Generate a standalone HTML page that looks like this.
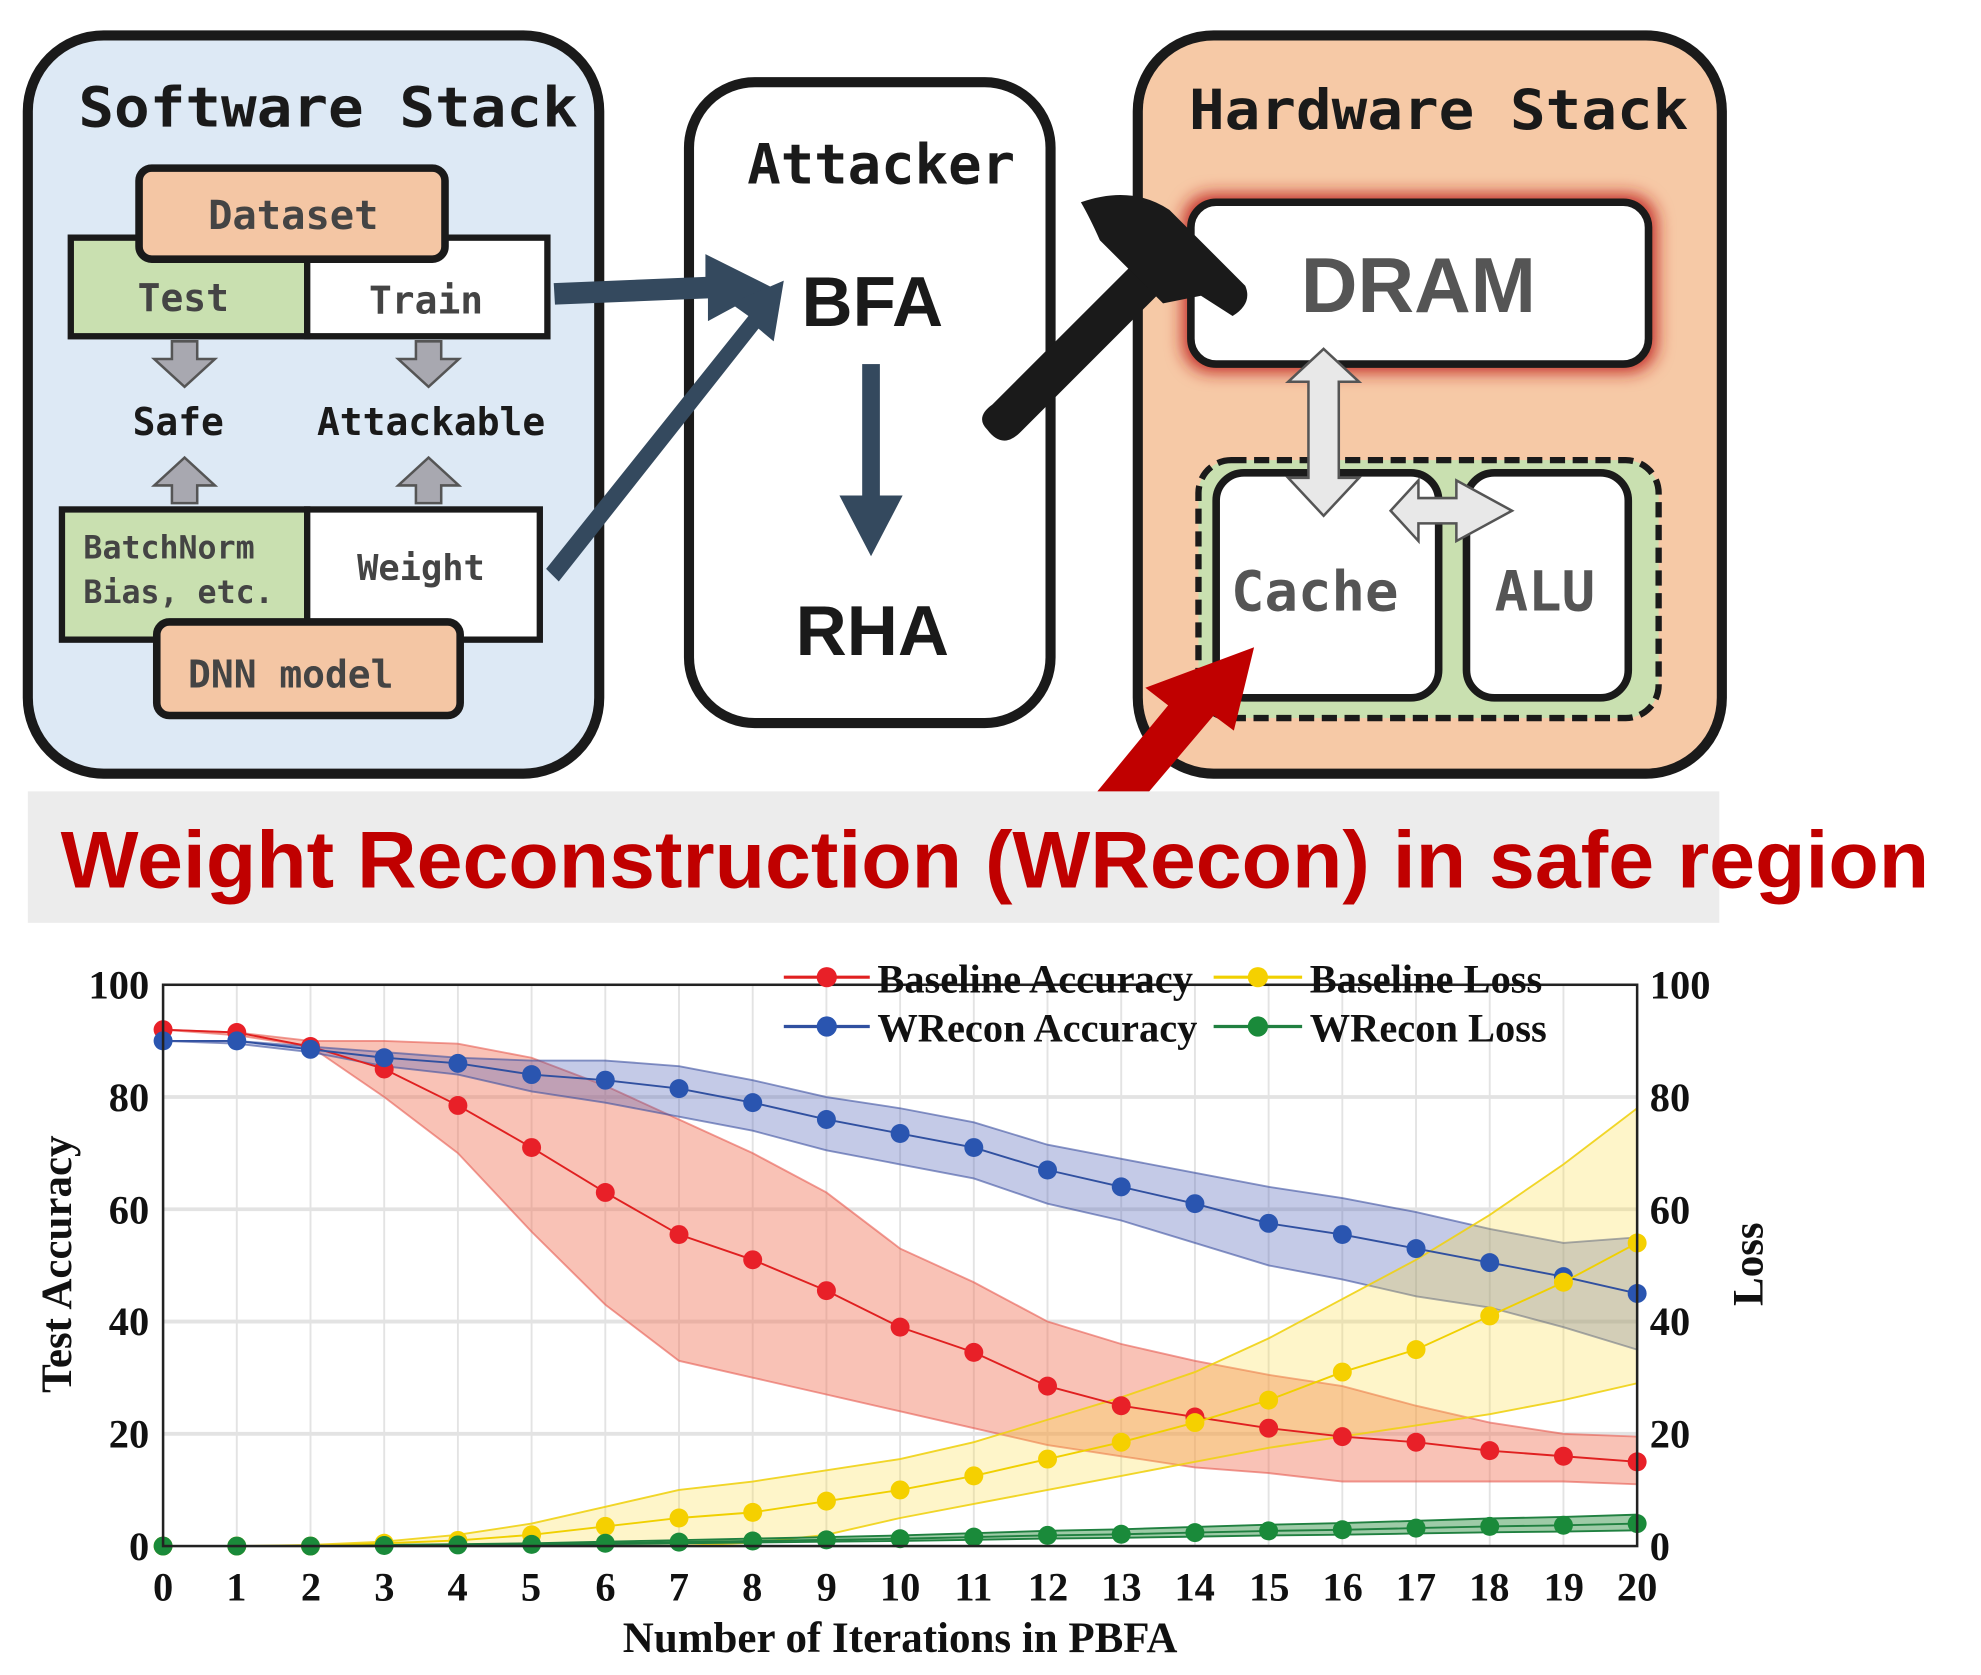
<!DOCTYPE html>
<html><head><meta charset="utf-8"><style>
html,body{margin:0;padding:0;background:#fff;width:1981px;height:1675px;overflow:hidden}
svg{display:block}
.mono{font-family:"DejaVu Sans Mono","Liberation Mono",monospace;font-weight:bold}
.ser{font-family:"Liberation Serif",serif;font-weight:bold}
</style></head><body>
<svg id="s" width="1981" height="1675" viewBox="0 0 1567 1325" preserveAspectRatio="none" xmlns="http://www.w3.org/2000/svg">
<defs>
<filter id="glow" x="-20%" y="-40%" width="140%" height="180%"><feGaussianBlur stdDeviation="7"/></filter>
</defs>
<rect x="22" y="28" width="452" height="584" rx="60" fill="#dde9f5" stroke="#1a1a1a" stroke-width="8"/>
<text x="62" y="100" class="mono" font-size="44" fill="#1a1a1a" textLength="395" lengthAdjust="spacingAndGlyphs">Software Stack</text>
<rect x="56" y="188" width="187" height="78" fill="#c9e0b0" stroke="#1a1a1a" stroke-width="5"/>
<rect x="243" y="188" width="190" height="78" fill="#fff" stroke="#1a1a1a" stroke-width="5"/>
<rect x="110" y="133" width="242" height="72" rx="10" fill="#f4c6a4" stroke="#1a1a1a" stroke-width="6"/>
<text x="232" y="181" class="mono" font-size="32" fill="#444" text-anchor="middle">Dataset</text>
<text x="145" y="246" class="mono" font-size="30" fill="#444" text-anchor="middle">Test</text>
<text x="337" y="248" class="mono" font-size="30" fill="#444" text-anchor="middle">Train</text>
<g fill="#a8a8b0" stroke="#555" stroke-width="2">
<path d="M136 270h20v14h14l-24 22l-24-22h14z"/>
<path d="M329 270h20v14h14l-24 22l-24-22h14z"/>
<path d="M136 398h20v-14h14l-24-22l-24 22h14z"/>
<path d="M329 398h20v-14h14l-24-22l-24 22h14z"/>
</g>
<text x="141" y="344" class="mono" font-size="30" fill="#1a1a1a" text-anchor="middle">Safe</text>
<text x="341" y="344" class="mono" font-size="30" fill="#1a1a1a" text-anchor="middle">Attackable</text>
<rect x="49" y="403" width="194" height="103" fill="#c9e0b0" stroke="#1a1a1a" stroke-width="5"/>
<rect x="243" y="403" width="184" height="103" fill="#fff" stroke="#1a1a1a" stroke-width="5"/>
<text x="66" y="442" class="mono" font-size="25" fill="#444">BatchNorm</text>
<text x="66" y="477" class="mono" font-size="25" fill="#444">Bias, etc.</text>
<text x="333" y="459" class="mono" font-size="28" fill="#444" text-anchor="middle">Weight</text>
<rect x="124" y="492" width="240" height="74" rx="10" fill="#f4c6a4" stroke="#1a1a1a" stroke-width="6"/>
<text x="230" y="544" class="mono" font-size="30" fill="#444" text-anchor="middle">DNN model</text>
<rect x="545" y="65" width="286" height="507" rx="52" fill="#fff" stroke="#1a1a1a" stroke-width="8"/>
<text x="697" y="145" class="mono" font-size="44" fill="#1a1a1a" text-anchor="middle">Attacker</text>
<text x="690" y="258" font-family="Liberation Sans,sans-serif" font-weight="bold" font-size="56" fill="#1a1a1a" text-anchor="middle">BFA</text>
<text x="690" y="518" font-family="Liberation Sans,sans-serif" font-weight="bold" font-size="56" fill="#1a1a1a" text-anchor="middle">RHA</text>
<g fill="#34495e">
<rect x="682" y="288" width="14" height="110"/>
<path d="M664 392h50l-25 48z"/>
<path d="M438 224l120-5v-18l52 26l-50 27v-18l-121 5z"/>
<path d="M432 450l160-200l-14-10l42-18l-8 48l-12-10l-158 200z"/>
</g>
<rect x="900" y="28" width="462" height="584" rx="60" fill="#f6c9a6" stroke="#1a1a1a" stroke-width="8"/>
<text x="1138" y="102" class="mono" font-size="44" fill="#1a1a1a" text-anchor="middle" textLength="395" lengthAdjust="spacingAndGlyphs">Hardware Stack</text>
<rect x="936" y="154" width="374" height="140" rx="22" fill="#c0201a" filter="url(#glow)"/>
<rect x="942" y="160" width="362" height="128" rx="20" fill="#fff" stroke="#1a1a1a" stroke-width="6"/>
<text x="1122" y="247" font-family="Liberation Sans,sans-serif" font-weight="bold" font-size="62" fill="#555" text-anchor="middle">DRAM</text>
<rect x="948" y="364" width="364" height="204" rx="26" fill="#c9e0b0" stroke="#1a1a1a" stroke-width="5" stroke-dasharray="12 6"/>
<rect x="962" y="374" width="176" height="178" rx="22" fill="#fff" stroke="#1a1a1a" stroke-width="6"/>
<rect x="1160" y="374" width="128" height="178" rx="22" fill="#fff" stroke="#1a1a1a" stroke-width="6"/>
<text x="1040" y="483" class="mono" font-size="44" fill="#555" text-anchor="middle">Cache</text>
<text x="1222" y="483" class="mono" font-size="44" fill="#555" text-anchor="middle">ALU</text>
<path d="M1047 276l28 26h-16v76h16l-28 30l-28-30h16v-76h-16z" fill="#e8e8e8" stroke="#555" stroke-width="2"/>
<path d="M1100 404l22-24v14h30v-14l44 24l-44 24v-14h-30v14z" fill="#e8e8e8" stroke="#555" stroke-width="2"/>
<path d="M785 320l110-110l22 22l-110 110q-14 14-26-2q-10-10 4-20z" fill="#1a1a1a"/>
<path d="M855 160q40-14 70 6l60 60q6 14-10 24l-25-16l-30 6l-50-50q-8-18-15-30z" fill="#1a1a1a"/>
<path d="M868 626l56-68l-18-14l86-32l-16 66l-16-12l-56 66z" fill="#c00000"/>
<rect x="22" y="626" width="1338" height="104" fill="#ececec"/>
<text x="48" y="702" font-family="Liberation Sans,sans-serif" font-weight="bold" font-size="64" fill="#c00000" textLength="1478" lengthAdjust="spacingAndGlyphs">Weight Reconstruction (WRecon) in safe region</text>
<g id="grid" stroke="#e3e3e3" stroke-width="1.5"></g>
<g id="plot"></g>
<rect x="129" y="779" width="1166" height="444" fill="none" stroke="#222" stroke-width="2"/>
<g class="ser" font-size="32" fill="#111">
<text x="118" y="790" text-anchor="end">100</text>
<text x="118" y="879" text-anchor="end">80</text>
<text x="118" y="968" text-anchor="end">60</text>
<text x="118" y="1056" text-anchor="end">40</text>
<text x="118" y="1145" text-anchor="end">20</text>
<text x="118" y="1234" text-anchor="end">0</text>
<text x="1305" y="790">100</text>
<text x="1305" y="879">80</text>
<text x="1305" y="968">60</text>
<text x="1305" y="1056">40</text>
<text x="1305" y="1145">20</text>
<text x="1305" y="1234">0</text>
<g text-anchor="middle">
<text x="129" y="1266">0</text><text x="187" y="1266">1</text><text x="246" y="1266">2</text><text x="304" y="1266">3</text><text x="362" y="1266">4</text><text x="420" y="1266">5</text><text x="479" y="1266">6</text><text x="537" y="1266">7</text><text x="595" y="1266">8</text><text x="654" y="1266">9</text><text x="712" y="1266">10</text><text x="770" y="1266">11</text><text x="829" y="1266">12</text><text x="887" y="1266">13</text><text x="945" y="1266">14</text><text x="1004" y="1266">15</text><text x="1062" y="1266">16</text><text x="1120" y="1266">17</text><text x="1178" y="1266">18</text><text x="1237" y="1266">19</text><text x="1295" y="1266">20</text>
<text x="712" y="1307" font-size="34">Number of Iterations in PBFA</text>
</g>
<text transform="translate(56 1000) rotate(-90)" text-anchor="middle" font-size="34">Test Accuracy</text>
<text transform="translate(1394 1000) rotate(-90)" text-anchor="middle" font-size="34">Loss</text>
<text x="694" y="785">Baseline Accuracy</text>
<text x="1036" y="785">Baseline Loss</text>
<text x="694" y="824">WRecon Accuracy</text>
<text x="1036" y="824">WRecon Loss</text>
</g>
<g stroke-width="2.5">
<line x1="620" y1="773" x2="688" y2="773" stroke="#e02020"/><circle cx="654" cy="773" r="8" fill="#e82028"/>
<line x1="960" y1="773" x2="1030" y2="773" stroke="#f0d000"/><circle cx="995" cy="773" r="8" fill="#f5d000"/>
<line x1="620" y1="812" x2="688" y2="812" stroke="#3050a0"/><circle cx="654" cy="812" r="8" fill="#2a55b0"/>
<line x1="960" y1="812" x2="1030" y2="812" stroke="#208040"/><circle cx="995" cy="812" r="8" fill="#1a8a3a"/>
</g>
</svg>
<script>
(function(){
var NS="http://www.w3.org/2000/svg";
function X(i){return 129+i*58.3}function Y(v){return 1223-v*4.44}
var g=document.getElementById('grid'),p=document.getElementById('plot');
for(var i=1;i<20;i++){var l=document.createElementNS(NS,'line');l.setAttribute('x1',X(i));l.setAttribute('x2',X(i));l.setAttribute('y1',779);l.setAttribute('y2',1223);g.appendChild(l);}
for(var v=20;v<100;v+=20){var l=document.createElementNS(NS,'line');l.setAttribute('x1',129);l.setAttribute('x2',1295);l.setAttribute('y1',Y(v));l.setAttribute('y2',Y(v));l.setAttribute('stroke-width',3);g.appendChild(l);}
function band(u,lo,fill,stroke){var d='M';for(var i=0;i<=20;i++)d+=X(i)+' '+Y(u[i])+' L';for(var i=20;i>=0;i--)d+=X(i)+' '+Y(lo[i])+(i?' L':'Z');var e=document.createElementNS(NS,'path');e.setAttribute('d',d.replace(/ L$/,''));e.setAttribute('fill',fill);e.setAttribute('stroke',stroke);e.setAttribute('stroke-width',1.5);p.appendChild(e);}
function line(a,c,f){var d='';for(var i=0;i<=20;i++)d+=(i?'L':'M')+X(i)+' '+Y(a[i]);var e=document.createElementNS(NS,'path');e.setAttribute('d',d);e.setAttribute('fill','none');e.setAttribute('stroke',c);e.setAttribute('stroke-width',1.5);p.appendChild(e);for(var i=0;i<=20;i++){var c2=document.createElementNS(NS,'circle');c2.setAttribute('cx',X(i));c2.setAttribute('cy',Y(a[i]));c2.setAttribute('r',7.5);c2.setAttribute('fill',f);p.appendChild(c2);}}
var ra=[92,91.5,89,85,78.5,71,63,55.5,51,45.5,39,34.5,28.5,25,23,21,19.5,18.5,17,16,15];
var ru=[92,91.5,90,90,89.5,87,82,76,70,63,53,47,40,36,33,30.5,28.5,25,22,20,19.5];
var rl=[92,91,89,80,70,56,43,33,30,27,24,21,18,16,14,13,11.5,11.5,11.5,11.5,11];
var ba=[90,90,88.5,87,86,84,83,81.5,79,76,73.5,71,67,64,61,57.5,55.5,53,50.5,48,45];
var bu=[90,90,89,88,87,86.5,86.5,85.5,83,80,78,75.5,71.5,69,66.5,64,62,59.5,56.5,54,55];
var bl=[90,89.5,88,85.5,84,81,79,76.5,74,70.5,68,65.5,61,58,54,50,47.5,44.5,42.5,39,35];
var ya=[0,0,0,0.5,1,2,3.5,5,6,8,10,12.5,15.5,18.5,22,26,31,35,41,47,54];
var yu=[0,0,0.2,0.8,2,4,7,10,11.5,13.5,15.5,18.5,22.5,26.5,31,37,44,51,59,68,78];
var yl=[0,0,0,0,0,0,0,0,0.6,2,5,7.5,10,12.5,15,17.5,19.5,21.5,23.5,26,29];
var ga=[0,0,0,0.1,0.2,0.3,0.5,0.7,0.9,1.1,1.3,1.6,1.9,2.1,2.4,2.7,2.9,3.2,3.5,3.7,4];
var gu=ga.map(function(v,i){return v*1.3+i*0.02}),gl=ga.map(function(v){return v*0.7});
band(ru,rl,'rgba(240,110,80,0.42)','rgba(230,90,80,0.6)');
band(bu,bl,'rgba(70,90,180,0.32)','rgba(60,80,160,0.6)');
band(yu,yl,'rgba(250,220,60,0.28)','rgba(240,210,20,0.9)');
band(gu,gl,'rgba(40,140,60,0.45)','#208040');
line(ra,'#e02020','#e82028');
line(ba,'#3050a0','#2a55b0');
line(ya,'#f0d000','#f5d000');
line(ga,'#208040','#1a8a3a');
})();
</script>
</body></html>
